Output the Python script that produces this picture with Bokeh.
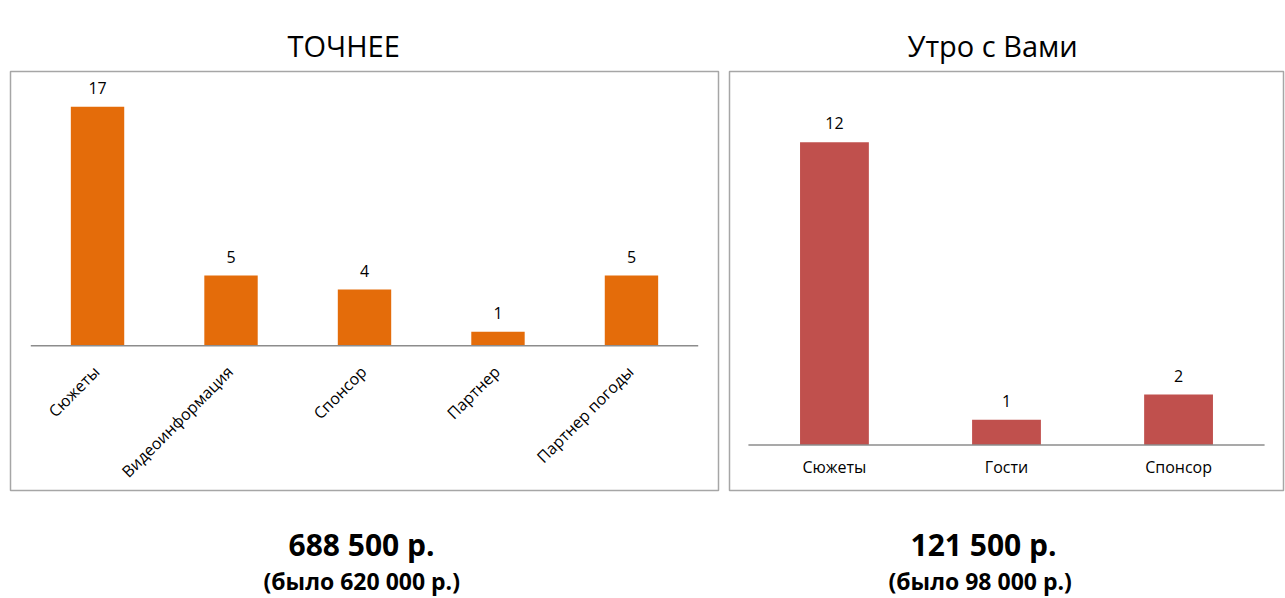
import numpy as np
from bokeh.plotting import figure
from bokeh.models import Range1d, Title, ColumnDataSource
from bokeh.layouts import row
from bokeh.embed import file_html
from bokeh.resources import INLINE
from bokeh.core.properties import value

# ---- data ----
left_title = "ТОЧНЕЕ"
left_cats = ["Сюжеты", "Видеоинформация", "Спонсор", "Партнер", "Партнер погоды"]
left_vals = [17, 5, 4, 1, 5]
left_total = "688 500 р."
left_prev = "(было 620 000 р.)"

right_title = "Утро с Вами"
right_cats = ["Сюжеты", "Гости", "Спонсор"]
right_vals = [12, 1, 2]
right_total = "121 500 р."
right_prev = "(было 98 000 р.)"

FONT = "Open Sans"


def make_chart(cats, vals, color, title, total, prev, width, ymin, ymax, pad,
               rotate, bl, br, toff, t1off, t2off):
    n = len(cats)
    x = np.arange(n) + 0.5
    src = ColumnDataSource(dict(x=x, top=vals, cat=cats, lbl=[str(v) for v in vals]))
    p = figure(width=width, height=598, x_range=Range1d(-pad, n + pad),
               y_range=Range1d(ymin, ymax), output_backend="svg",
               toolbar_location=None, x_axis_location=None, y_axis_location=None,
               min_border_left=bl, min_border_right=br, min_border_top=71,
               min_border_bottom=107)
    p.grid.visible = False
    p.outline_line_color = "#a6a6a6"
    p.outline_line_width = 1.5
    p.background_fill_color = "white"
    p.border_fill_color = "white"

    p.title.text = title
    p.title.align = "left"
    p.title.offset = toff
    p.title.standoff = 13
    p.title.text_font = FONT
    p.title.text_font_size = "29px"
    p.title.text_font_style = "normal"
    p.title.text_color = "black"

    p.vbar(x="x", top="top", bottom=0, width=0.4, source=src,
           fill_color=color, line_color=None)
    p.segment(x0=[0], y0=[0], x1=[n], y1=[0], line_color="#8c8c8c", line_width=1.5)
    p.text(x="x", y="top", text="lbl", source=src, text_align="center",
           text_baseline="middle", y_offset=-19, text_font=value(FONT),
           text_font_size="16px", text_color="black")
    if rotate:
        p.text(x="x", y=0, text="cat", source=src, angle=np.pi / 4,
               text_align="right", text_baseline="middle", x_offset=-1, y_offset=23,
               text_font=value(FONT), text_font_size="16px", text_color="black")
    else:
        p.text(x="x", y=0, text="cat", source=src, text_align="center",
               text_baseline="middle", y_offset=22,
               text_font=value(FONT), text_font_size="16px", text_color="black")

    # spacer between the chart box and the sums below it
    p.add_layout(Title(text=" ", text_font_size="1px", standoff=28), "below")
    p.add_layout(Title(text=total, align="left", offset=t1off, standoff=0,
                       text_font=FONT, text_font_size="30px",
                       text_font_style="bold", text_color="black"), "below")
    p.add_layout(Title(text=prev, align="left", offset=t2off, standoff=0,
                       vertical_align="top",
                       text_font=FONT, text_font_size="23px",
                       text_font_style="bold", text_color="black"), "below")
    return p


p1 = make_chart(left_cats, left_vals, "#E46C0A", left_title, left_total, left_prev,
                width=724, ymin=-10.28, ymax=19.5, pad=0.152, rotate=True,
                bl=10, br=6, toff=277, t1off=278, t2off=253)
p2 = make_chart(right_cats, right_vals, "#C0504D", right_title, right_total, right_prev,
                width=561, ymin=-1.80, ymax=14.80, pad=0.110, rotate=False,
                bl=5, br=2, toff=178, t1off=181, t2off=159)

layout = row(p1, p2)
open("out.html", "w").write(file_html(layout, INLINE))
